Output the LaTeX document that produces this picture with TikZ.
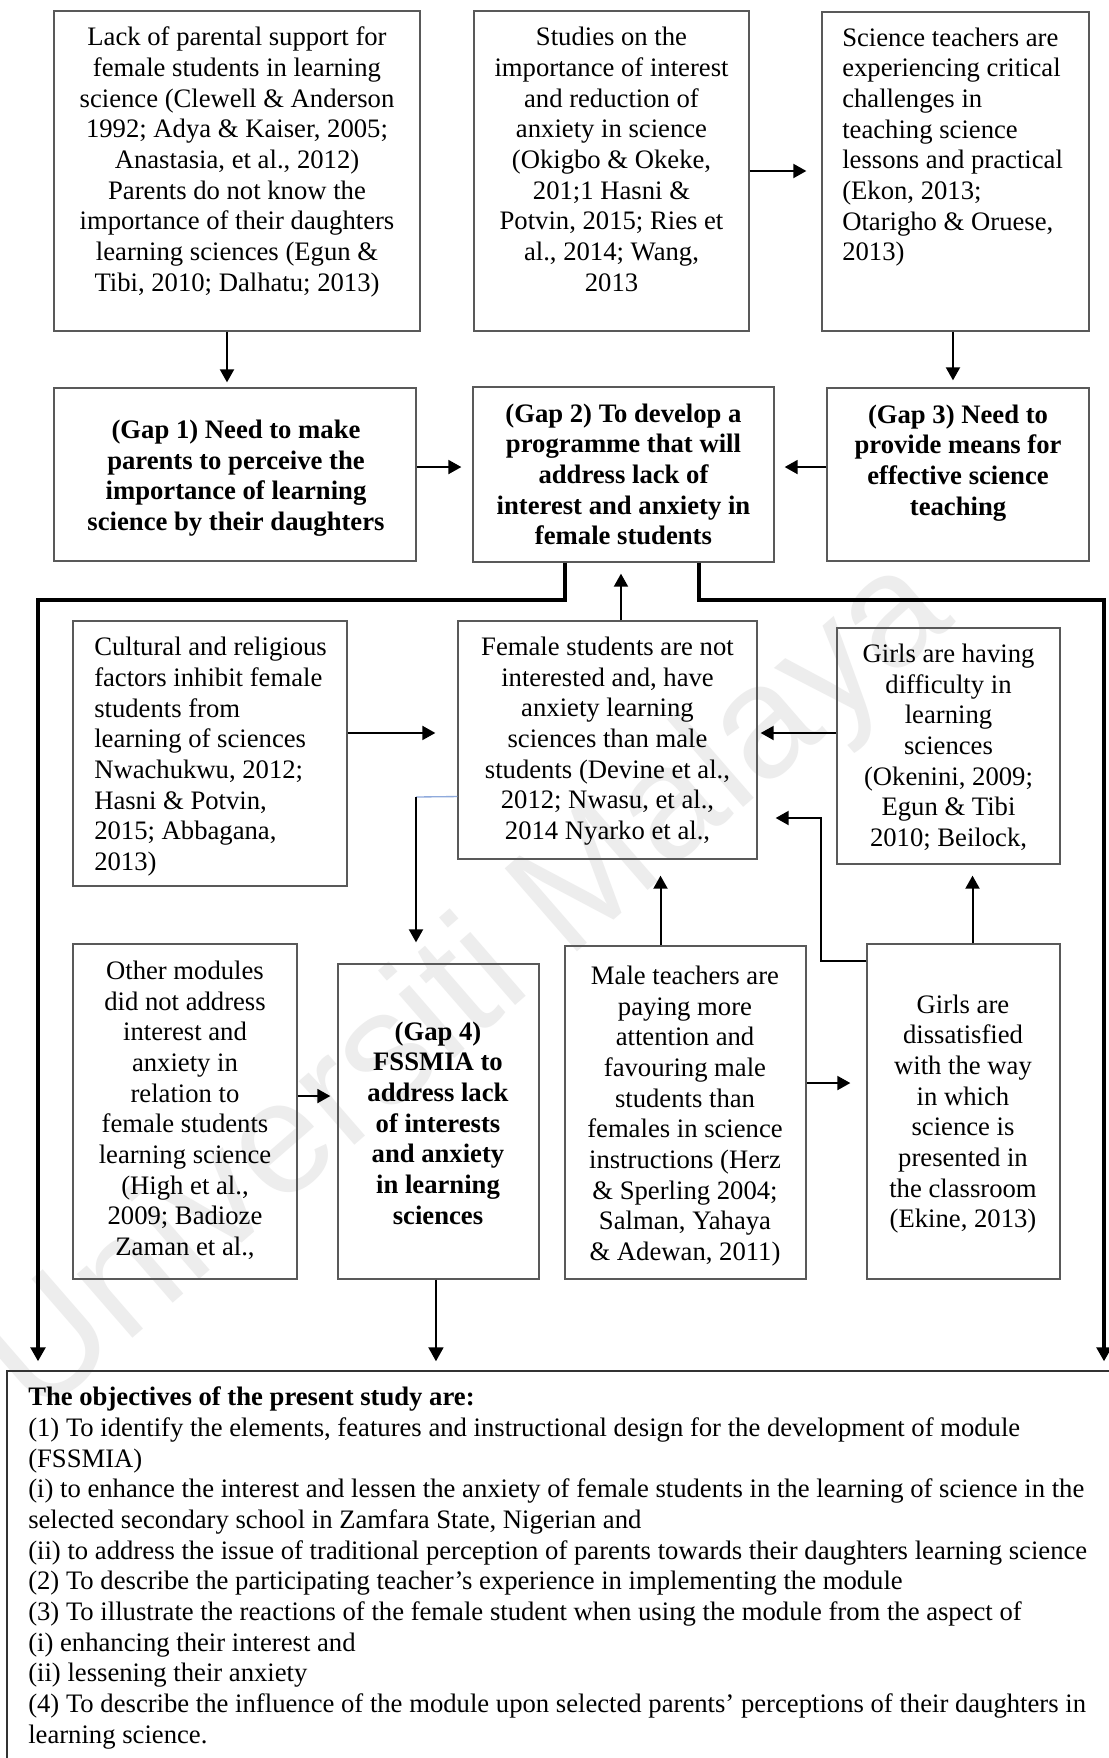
\documentclass[tikz,border=0pt]{standalone}
\usepackage{fontspec}
\setmainfont{Liberation Serif}
\newfontfamily\wmfont{Liberation Sans}
\usetikzlibrary{arrows.meta,fit}
\begin{document}
\begin{tikzpicture}[x=0.75pt,y=-0.75pt,
  box/.style={draw=black!65, line width=1pt, inner sep=0pt},
  txt/.style={font=\fontsize{20}{23}\selectfont, inner sep=0pt, align=center},
  txtl/.style={txt, align=left, anchor=west},
  gaptxt/.style={font=\fontsize{20}{23}\selectfont\bfseries, inner sep=0pt, align=center},
  conn/.style={line width=1.5pt, -{Triangle[length=9.75pt,width=10.5pt]}},
  thk/.style={line width=2.6pt, -{Triangle[length=10.5pt,width=11pt]}},
  mid/.style={line width=2.1pt, -{Triangle[length=10.5pt,width=11pt]}},
  bluel/.style={draw={rgb,255:red,143;green,170;blue,220}, line width=1pt},
  wm/.style={font=\wmfont\fontsize{120}{120}\selectfont, text=black!7, inner sep=0pt}
]
\useasboundingbox (0,0) rectangle (1109,1758);
\fill[white] (0,0) rectangle (1109,1758);

% watermark
\node[wm, rotate=41] (wmark) at (470,990) {Universiti Malaya};

% boxes
\node[box, fit={(54,11) (420,331)}] (A) {};
\node[box, fit={(474,11) (749,331)}] (B) {};
\node[box, fit={(822,12) (1089,331)}] (C) {};
\node[box, fit={(54,388) (416,561)}] (G1) {};
\node[box, fit={(473,387) (774,562)}] (G2) {};
\node[box, fit={(827,388) (1089,561)}] (G3) {};
\node[box, fit={(73,621) (347,886)}] (Cu) {};
\node[box, fit={(458,621) (757,859)}] (F) {};
\node[box, fit={(837,628) (1060,864)}] (GD) {};
\node[box, fit={(73,944) (297,1279)}] (Ot) {};
\node[box, fit={(338,964) (539,1279)}] (G4) {};
\node[box, fit={(565,946) (806,1279)}] (M) {};
\node[box, fit={(867,944) (1060,1279)}] (D) {};
\node[draw=black!80, line width=1pt, inner sep=0pt, fit={(7,1371) (1118,1768)}] (O) {};

% texts
\node[txt] (tA) at (237,162.5) {\strut Lack of parental support for\\female students in learning\\science (Clewell \& Anderson\\1992; Adya \& Kaiser, 2005;\\Anastasia, et al., 2012)\\Parents do not know the\\importance of their daughters\\learning sciences (Egun \&\\Tibi, 2010; Dalhatu; 2013)\strut};
\node[txt] (tB) at (611.5,162.5) {\strut Studies on the\\importance of interest\\and reduction of\\anxiety in science\\(Okigbo \& Okeke,\\201;1 Hasni \&\\Potvin, 2015; Ries et\\al., 2014; Wang,\\2013\strut};
\node[txtl] (tC) at (842,147.5) {\strut Science teachers are\\experiencing critical\\challenges in\\teaching science\\lessons and practical\\(Ekon, 2013;\\Otarigho \& Oruese,\\2013)\strut};
\node[gaptxt] (tG1) at (236,478.5) {\strut (Gap 1) Need to make\\parents to perceive the\\importance of learning\\science by their daughters\strut};
\node[gaptxt] (tG2) at (623.5,477.5) {\strut (Gap 2) To develop a\\programme that will\\address lack of\\interest and anxiety in\\female students\strut};
\node[gaptxt] (tG3) at (958,463) {\strut (Gap 3) Need to\\provide means for\\effective science\\teaching\strut};
\node[txtl] (tCu) at (94,757) {\strut Cultural and religious\\factors inhibit female\\students from\\learning of sciences\\Nwachukwu, 2012;\\Hasni \& Potvin,\\2015; Abbagana,\\2013)\strut};
\node[txt] (tF) at (607.5,741.5) {\strut Female students are not\\interested and, have\\anxiety learning\\sciences than male\\students (Devine et al.,\\2012; Nwasu, et al.,\\2014 Nyarko et al.,\strut};
\node[txt] (tGD) at (948.5,748.5) {\strut Girls are having\\difficulty in\\learning\\sciences\\(Okenini, 2009;\\Egun \& Tibi\\2010; Beilock,\strut};
\node[txt] (tOt) at (185,1111.5) {\strut Other modules\\did not address\\interest and\\anxiety in\\relation to\\female students\\learning science\\(High et al.,\\2009; Badioze\\Zaman et al.,\strut};
\node[gaptxt] (tG4) at (438,1126) {\strut (Gap 4)\\FSSMIA to\\address lack\\of interests\\and anxiety\\in learning\\sciences\strut};
\node[txt] (tM) at (685,1116.5) {\strut Male teachers are\\paying more\\attention and\\favouring male\\students than\\females in science\\instructions (Herz\\\& Sperling 2004;\\Salman, Yahaya\\\& Adewan, 2011)\strut};
\node[txt] (tD) at (963,1114.5) {\strut Girls are\\dissatisfied\\with the way\\in which\\science is\\presented in\\the classroom\\(Ekine, 2013)\strut};
\node[txtl] (tO) at (28,1568.5) {\strut\textbf{The objectives of the present study are:}\\(1) To identify the elements, features and instructional design for the development of module\\(FSSMIA)\\(i) to enhance the interest and lessen the anxiety of female students in the learning of science in the\\selected secondary school in Zamfara State, Nigerian and\\(ii) to address the issue of traditional perception of parents towards their daughters learning science\\(2) To describe the participating teacher’s experience in implementing the module\\(3) To illustrate the reactions of the female student when using the module from the aspect of\\(i) enhancing their interest and\\(ii) lessening their anxiety\\(4) To describe the influence of the module upon selected parents’ perceptions of their daughters in\\learning science.\strut};

% helper coordinates
\coordinate (cL) at (38,600);
\coordinate (cR) at (1104,600);
\coordinate (cB) at (416,797);
\coordinate (cD) at (821,818);

% connectors
\draw[conn, shorten >=3.75pt] ([xshift=-7.5pt]A.south) -- ([xshift=-7.5pt]A.south |- G1.north);
\draw[conn, shorten >=11.25pt] (B.east) -- (B.east -| C.west);
\draw[conn, shorten >=5.25pt] ([xshift=-1.9pt]C.south) -- ([xshift=-1.9pt]C.south |- G3.north);
\draw[conn, shorten >=8.25pt] ([yshift=5.6pt]G1.east) -- ([yshift=5.6pt]G1.east -| G2.west);
\draw[conn, shorten >=7.5pt] ([yshift=5.6pt]G3.west) -- ([yshift=5.6pt]G3.west -| G2.east);
\draw[thk, shorten >=6.75pt] ([xshift=-43.9pt]G2.south) |- (cL) -- (cL |- O.north);
\draw[thk, shorten >=6.75pt] ([xshift=56.6pt]G2.south) |- (cR) -- (cR |- O.north);
\draw[conn, shorten >=8.25pt] ([xshift=10.1pt]F.north) -- ([xshift=10.1pt]F.north |- G2.south);
\draw[conn, shorten >=16.5pt] ([yshift=15.4pt]Cu.east) -- ([yshift=15.4pt]Cu.east -| F.west);
\draw[conn, shorten >=2.25pt] ([yshift=9.75pt]GD.west) -- ([yshift=9.75pt]GD.west -| F.east);
\draw[bluel] ([yshift=-42.4pt]F.west) -- (cB);
\draw[conn, shorten >=15.75pt] (cB) -- (cB |- G4.north);
\draw[conn, shorten >=5.25pt] ([yshift=11.6pt]Ot.east) -- ([yshift=11.6pt]Ot.east -| G4.west);
\draw[mid, shorten >=6.75pt] ([xshift=-1.9pt]G4.south) -- ([xshift=-1.9pt]G4.south |- O.north);
\draw[conn, shorten >=12pt] ([xshift=-18.75pt]M.north) -- ([xshift=-18.75pt]M.north |- F.south);
\draw[conn, shorten >=12pt] ([yshift=22.1pt]M.east) -- ([yshift=22.1pt]M.east -| D.west);
\draw[conn, shorten >=8.25pt] ([xshift=6.75pt]D.north) -- ([xshift=6.75pt]D.north |- GD.south);
\draw[conn, shorten >=13.5pt] ([yshift=-13.5pt]D.north west) -| (cD) -- (cD -| F.east);
\end{tikzpicture}
\end{document}
